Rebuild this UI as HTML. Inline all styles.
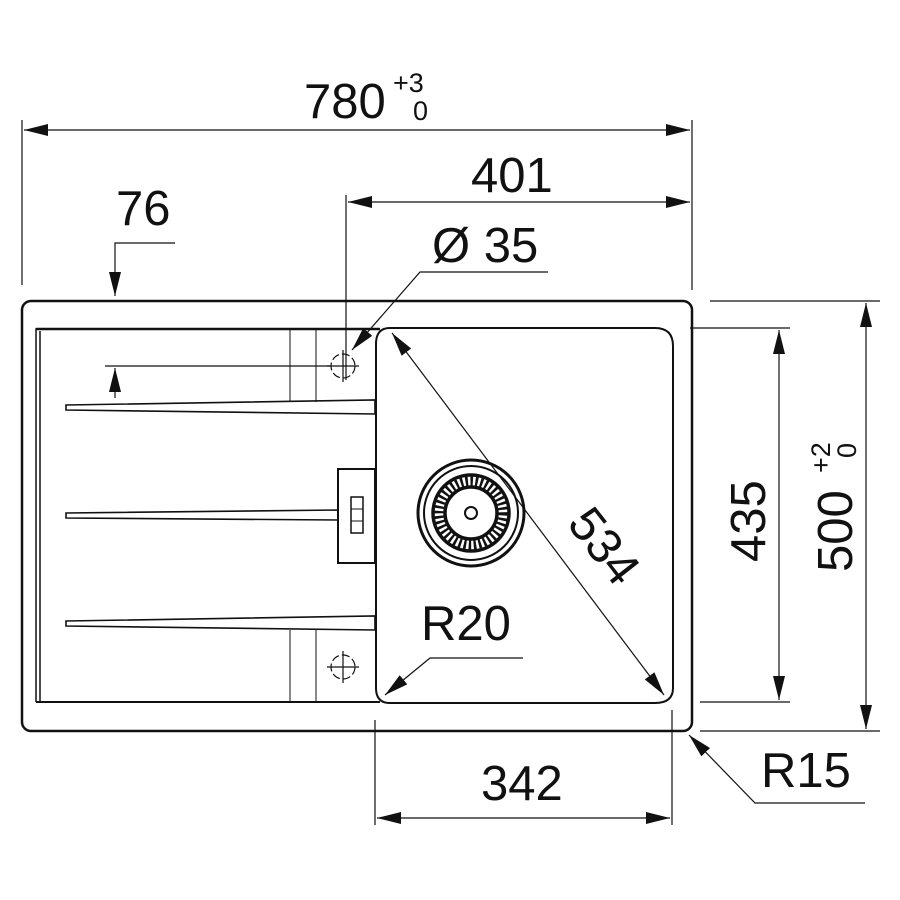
<!DOCTYPE html>
<html><head><meta charset="utf-8"><style>body{margin:0;background:#fff}svg{display:block}text{font-family:"Liberation Sans",sans-serif;fill:#111}</style></head><body>
<svg width="900" height="900" viewBox="0 0 900 900" xmlns="http://www.w3.org/2000/svg">
<defs>
<marker id="b" viewBox="0 0 10 10" refX="10" refY="5" markerWidth="24" markerHeight="12" markerUnits="userSpaceOnUse" orient="auto-start-reverse" preserveAspectRatio="none"><path d="M0,0 L10,5 L0,10z" fill="#111"/></marker></defs>
<g stroke="#111" fill="none">
<rect x="22" y="301" width="670" height="430" rx="9" stroke-width="2.5"/>
<path d="M36,702 V329 H380 M40,702 V331" stroke-width="1.5"/>
<path d="M36,702 H380" stroke-width="2"/>
<path d="M36,329 H380" stroke-width="2.5"/>
<path d="M390,328 H655 Q673,328 673,346 V688 Q673,703 655,703 H390 Q376,703 376,688 V344 Q376,328 390,328 Z" stroke-width="2"/>
<path d="M290,329 V402 M316,329 V402 M290,630 V702 M316,630 V702" stroke-width="1"/>
<g stroke-width="1.6"><path d="M66,405 L375,400 V414 L66,410 Z"/><path d="M66,513 L338,510 V520 L66,518 Z"/><path d="M66,621 L375,616 V630 L66,626 Z"/></g>
<rect x="338" y="469" width="37" height="94" stroke-width="2"/>
<rect x="351" y="497" width="12" height="36" stroke-width="1.5"/>
<path d="M351,509 H363 M351,521 H363" stroke-width="1"/>
<g stroke-width="1.2"><circle cx="343" cy="366" r="12" stroke-dasharray="8,3"/><path d="M327,366 H359 M343,350 V382"/>
<circle cx="343" cy="667" r="12" stroke-dasharray="8,3"/><path d="M327,667 H359 M343,651 V683"/></g>
<circle cx="471" cy="513" r="53" stroke-width="3"/><circle cx="471" cy="513" r="47" stroke-width="2"/>
<circle cx="471" cy="513" r="38" stroke-width="3.5"/><circle cx="471" cy="513" r="26" stroke-width="3.5"/>
<circle cx="471" cy="513" r="32" stroke-width="9" stroke-dasharray="2.5,2.5"/>
<circle cx="471" cy="513" r="6" stroke-width="2"/>
<g stroke-width="1.2">
<path d="M22,120 V285 M692,120 V290 M346,195 V380 M690,328 H790 M700,702 H790 M710,301 H880 M700,731 H880 M375,720 V825 M672,710 V825 M105,366 H330"/>
<path d="M24,130 H690" marker-start="url(#b)" marker-end="url(#b)"/>
<path d="M348,202 H690" marker-start="url(#b)" marker-end="url(#b)"/>
<path d="M779,330 V700" marker-start="url(#b)" marker-end="url(#b)"/>
<path d="M866,303 V729" marker-start="url(#b)" marker-end="url(#b)"/>
<path d="M377,818 H670" marker-start="url(#b)" marker-end="url(#b)"/>
<path d="M392,333 L664,695" marker-start="url(#b)" marker-end="url(#b)"/>
<path d="M175,243 H115 V296" marker-end="url(#b)"/>
<path d="M115,398 V368" marker-end="url(#b)"/>
<path d="M548,272 H420 L352,350" marker-end="url(#b)"/>
<path d="M523,658 H430 L385,695" marker-end="url(#b)"/>
<path d="M865,803 H755 L689,735" marker-end="url(#b)"/>
</g></g>
<g font-size="49">
<text x="304" y="118">780</text>
<text x="471" y="192">401</text>
<text x="116" y="225">76</text>
<text x="432" y="262">Ø 35</text>
<text x="421" y="640">R20</text>
<text x="481" y="800">342</text>
<text x="761" y="787">R15</text>
<text transform="translate(566,524) rotate(52)">534</text>
<text transform="translate(765,562) rotate(-90)">435</text>
<text transform="translate(852,572) rotate(-90)">500</text>
</g>
<text x="393" y="92" font-size="27">+3</text><text x="413" y="120" font-size="27">0</text>
<text transform="translate(830,473) rotate(-90)" font-size="27">+2</text>
<text transform="translate(856,458) rotate(-90)" font-size="27">0</text>
</svg></body></html>
